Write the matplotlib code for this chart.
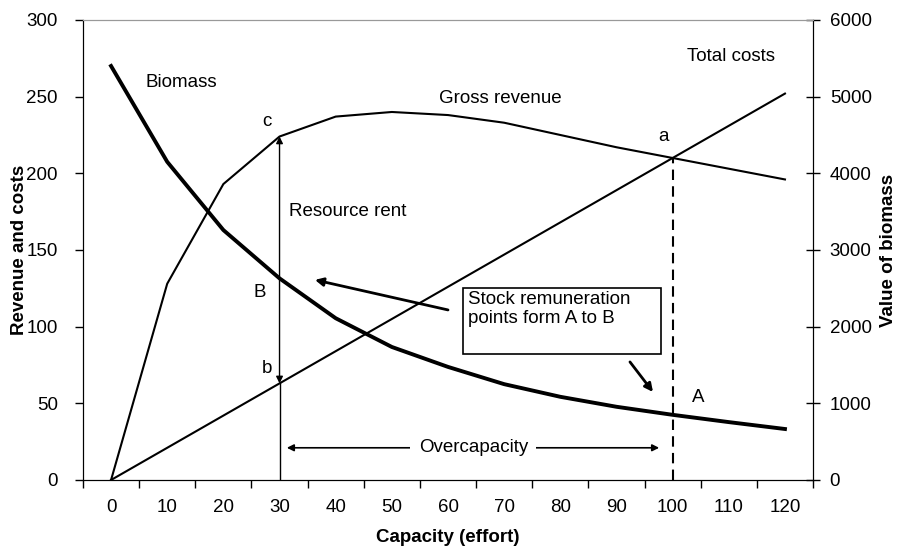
"""Resource rent and overcapacity diagram (revenue, costs and biomass vs. effort)."""

import matplotlib.pyplot as plt
from matplotlib.patches import Rectangle

plt.rcParams["font.family"] = ["Liberation Sans", "DejaVu Sans"]
plt.rcParams["font.size"] = 13.5

capacity = [0, 10, 20, 30, 40, 50, 60, 70, 80, 90, 100, 110, 120]
gross_revenue = [0, 128, 193, 224, 237, 240, 238, 233, 225, 217, 210, 203, 196]
total_costs = [0, 21, 42, 63, 84, 105, 126, 147, 168, 189, 210, 231, 252]
biomass_value = [5400, 4150, 3260, 2630, 2110, 1735, 1475, 1250, 1085, 955, 850, 755, 665]

tick_labels = [str(c) for c in capacity]


def main() -> None:
    fig = plt.figure(figsize=(8.97, 5.49), dpi=100)
    ax = fig.add_axes([0.0925, 0.1257, 0.8139, 0.8379])
    ax2 = ax.twinx()

    ax.plot(capacity, gross_revenue, color="black", linewidth=1.5, solid_joinstyle="miter")
    ax.plot(capacity, total_costs, color="black", linewidth=1.5)
    ax2.plot(capacity, biomass_value, color="black", linewidth=2.8)

    ax.set_xlim(-5, 125)
    ax.set_ylim(0, 300)
    ax2.set_ylim(0, 6000)

    ax.set_xticks(capacity)
    ax.set_xticklabels(tick_labels)
    ax.set_xticks([c - 5 for c in capacity] + [125], minor=True)
    ax.tick_params(axis="x", which="major", length=0, pad=14)
    ax.tick_params(axis="x", which="minor", length=6, width=1, direction="out")
    ax.set_yticks(range(0, 301, 50))
    ax.tick_params(axis="y", length=6, width=1, direction="out", pad=12)
    ax2.set_yticks(range(0, 6001, 1000))
    ax2.tick_params(axis="y", length=10, width=1, direction="inout", pad=7)

    for spine in ("left", "bottom", "right"):
        ax2.spines[spine].set_color("black")
    ax2.spines["top"].set_color("#999999")
    ax.spines["top"].set_color("#999999")

    ax.set_xlabel("Capacity (effort)", fontweight="bold")
    ax.set_ylabel("Revenue and costs", fontweight="bold")
    ax2.set_ylabel("Value of biomass", fontweight="bold")
    ax.xaxis.set_label_coords(0.5, -0.126)
    ax.yaxis.set_label_coords(-0.087, 0.5)
    ax2.yaxis.set_label_coords(1.104, 0.5)
    ax.xaxis.label.set_va("center")
    ax.yaxis.label.set_va("center")
    ax2.yaxis.label.set_va("center")

    # curve labels and points
    ax.text(6.1, 259, "Biomass", ha="left", va="center")
    ax.text(69.3, 248.5, "Gross revenue", ha="center", va="center")
    ax.text(110.4, 276, "Total costs", ha="center", va="center")
    ax.text(27.8, 233.5, "c", ha="center", va="center")
    ax.text(98.3, 223.7, "a", ha="center", va="center")
    ax.text(27.8, 73, "b", ha="center", va="center")
    ax.text(26.4, 122, "B", ha="center", va="center")
    ax.text(104.5, 53.5, "A", ha="center", va="center")
    ax.text(31.7, 174.8, "Resource rent", ha="left", va="center")

    # resource rent arrow at capacity 30
    ax.plot([30, 30], [0, 63], color="black", linewidth=1)
    ax.annotate("", xy=(30, 224), xytext=(30, 63),
                arrowprops=dict(arrowstyle="<|-|>", color="black", lw=1,
                                mutation_scale=10, shrinkA=0, shrinkB=0))

    # dashed line at open-access equilibrium
    ax.plot([100, 100], [0, 210], color="black", linewidth=1.5, linestyle=(0, (5, 3)))

    # overcapacity double arrow
    ax.annotate("", xy=(31.3, 21), xytext=(97.6, 21),
                arrowprops=dict(arrowstyle="<|-|>", color="black", lw=1.2,
                                mutation_scale=10, shrinkA=0, shrinkB=0))
    ax.text(64.5, 21, "Overcapacity", ha="center", va="center",
            bbox=dict(facecolor="white", edgecolor="none", pad=6))

    # stock remuneration box and arrows
    ax.add_patch(Rectangle((62.7, 82.2), 98.0 - 62.7, 125.2 - 82.2,
                           facecolor="white", edgecolor="black", linewidth=1.2, zorder=3))
    ax.text(63.6, 123, "Stock remuneration\npoints form A to B", ha="left", va="top",
            linespacing=1.15, zorder=4)
    ax.annotate("", xy=(36.3, 130.5), xytext=(60, 110.9),
                arrowprops=dict(arrowstyle="-|>", color="black", lw=2,
                                mutation_scale=12, shrinkA=0, shrinkB=0))
    ax.annotate("", xy=(96.5, 57.4), xytext=(92.4, 77),
                arrowprops=dict(arrowstyle="-|>", color="black", lw=2,
                                mutation_scale=12, shrinkA=0, shrinkB=0))

    fig.savefig("out.png", dpi=100)
    plt.close(fig)


if __name__ == "__main__":
    main()
